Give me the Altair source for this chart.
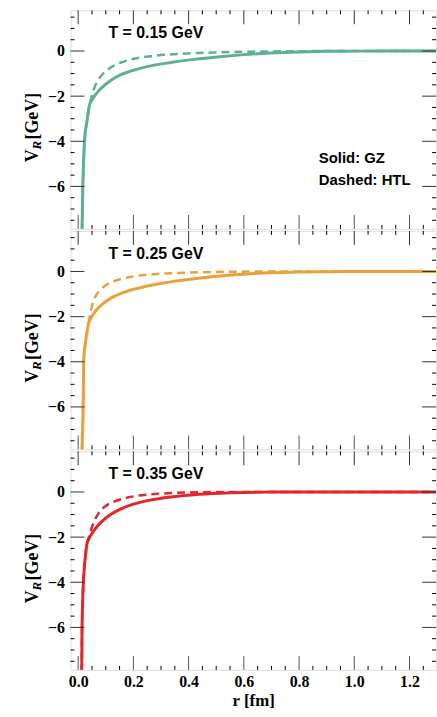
import altair as alt
import pandas as pd

# ---------------- data ----------------
temps = ["T = 0.15 GeV", "T = 0.25 GeV", "T = 0.35 GeV"]
colors = ["#5fae98", "#eaa13c", "#e2262b"]

# T = 0.15 GeV
r_gz_1 = [0.008, 0.014, 0.017, 0.023, 0.032, 0.041, 0.05, 0.06, 0.071, 0.09, 0.119, 0.155, 0.19, 0.25, 0.335, 0.42, 0.514, 0.6, 0.694, 0.8, 0.9, 1.0, 1.1, 1.2, 1.3]
v_gz_1 = [-12.0, -7.9, -6.0, -4.0, -3.1, -2.4, -2.17, -1.98, -1.81, -1.58, -1.3, -1.05, -0.89, -0.69, -0.51, -0.37, -0.25, -0.16, -0.09, -0.04, -0.015, -0.005, 0.0, 0.0, 0.0]
r_htl_1 = [0.008, 0.014, 0.017, 0.023, 0.032, 0.041, 0.047, 0.055, 0.065, 0.077, 0.089, 0.11, 0.131, 0.155, 0.19, 0.263, 0.35, 0.455, 0.55, 0.69, 0.85, 1.0, 1.3]
v_htl_1 = [-12.0, -7.9, -6.0, -4.0, -3.1, -2.4, -2.1, -1.75, -1.45, -1.2, -1.02, -0.8, -0.64, -0.51, -0.38, -0.23, -0.14, -0.08, -0.045, -0.02, -0.005, 0.0, 0.0]

# T = 0.25 GeV
r_gz_2 = [0.008, 0.014, 0.018, 0.020, 0.028, 0.037, 0.047, 0.058, 0.071, 0.09, 0.119, 0.155, 0.203, 0.25, 0.335, 0.42, 0.514, 0.6, 0.694, 0.8, 0.9, 1.0, 1.3]
v_gz_2 = [-12.0, -7.9, -6.0, -4.0, -3.0, -2.33, -2.05, -1.83, -1.64, -1.42, -1.18, -0.97, -0.78, -0.64, -0.46, -0.32, -0.2, -0.12, -0.06, -0.025, -0.01, 0.0, 0.0]
r_htl_2 = [0.008, 0.014, 0.018, 0.020, 0.028, 0.037, 0.045, 0.053, 0.065, 0.083, 0.105, 0.131, 0.155, 0.203, 0.274, 0.35, 0.455, 0.55, 0.7, 1.3]
v_htl_2 = [-12.0, -7.9, -6.0, -4.0, -3.0, -2.33, -1.8, -1.4, -1.06, -0.78, -0.57, -0.43, -0.33, -0.21, -0.12, -0.07, -0.03, -0.012, 0.0, 0.0]

# T = 0.35 GeV
r_gz_3 = [0.007, 0.013, 0.014, 0.019, 0.025, 0.032, 0.04, 0.05, 0.071, 0.09, 0.119, 0.155, 0.203, 0.26, 0.335, 0.42, 0.514, 0.6, 0.7, 0.8, 1.3]
v_gz_3 = [-12.0, -7.9, -6.0, -4.0, -3.0, -2.29, -2.05, -1.84, -1.5, -1.26, -0.99, -0.75, -0.53, -0.36, -0.22, -0.12, -0.055, -0.02, -0.005, 0.0, 0.0]
r_htl_3 = [0.007, 0.013, 0.014, 0.019, 0.025, 0.032, 0.04, 0.047, 0.058, 0.071, 0.09, 0.11, 0.131, 0.155, 0.203, 0.274, 0.335, 0.45, 0.55, 1.3]
v_htl_3 = [-12.0, -7.9, -6.0, -4.0, -3.0, -2.29, -1.95, -1.66, -1.3, -1.0, -0.72, -0.54, -0.42, -0.32, -0.19, -0.09, -0.05, -0.01, 0.0, 0.0]

series = [
    (r_gz_1, v_gz_1, r_htl_1, v_htl_1),
    (r_gz_2, v_gz_2, r_htl_2, v_htl_2),
    (r_gz_3, v_gz_3, r_htl_3, v_htl_3),
]

x_major = [0.0, 0.2, 0.4, 0.6, 0.8, 1.0, 1.2]
x_minor = [0.05, 0.10, 0.15, 0.25, 0.30, 0.35, 0.45, 0.50, 0.55, 0.65, 0.70, 0.75,
           0.85, 0.90, 0.95, 1.05, 1.10, 1.15, 1.25]
y_major = [0, -2, -4, -6]
y_minor = [1.5, 1.0, 0.5, -0.5, -1.0, -1.5, -2.5, -3.0, -3.5, -4.5, -5.0, -5.5,
           -6.5, -7.0, -7.5]

X_DOMAIN = [-0.0277, 1.296]
Y_DOMAIN = [-7.88, 1.80]
W, H = 368, 220
SERIF = "Liberation Serif"
SANS = "Liberation Sans"


def panel(i, show_x):
    xs = alt.Scale(domain=X_DOMAIN, nice=False, zero=False)
    ys = alt.Scale(domain=Y_DOMAIN, nice=False, zero=False)
    if show_x:
        xax = alt.Axis(values=x_major, format=".1f", ticks=False, domain=False, grid=False,
                       labelFont=SERIF, labelFontWeight="bold", labelFontSize=16,
                       labelColor="black", labelPadding=4, labelFlush=False,
                       title="r [fm]", titleFont=SERIF, titleFontSize=17,
                       titleFontWeight="bold", titleColor="black", titlePadding=3)
    else:
        xax = None
    yax = alt.Axis(values=y_major, ticks=False, domain=False, grid=False,
                   labelFont=SERIF, labelFontWeight="bold", labelFontSize=16,
                   labelColor="black", labelPadding=6, title=None)

    rg, vg, rh, vh = series[i]
    df_gz = pd.DataFrame({"r": rg, "v": vg})
    df_htl = pd.DataFrame({"r": rh, "v": vh})

    solid = alt.Chart(df_gz).mark_line(color=colors[i], strokeWidth=3, clip=True,
                                       interpolate="monotone").encode(
        x=alt.X("r:Q", scale=xs, axis=xax),
        y=alt.Y("v:Q", scale=ys, axis=yax),
        order="r:Q")
    dashed = alt.Chart(df_htl).mark_line(color=colors[i], strokeWidth=2.5, clip=True,
                                         strokeDash=[8, 5], interpolate="monotone").encode(
        x=alt.X("r:Q", scale=xs),
        y=alt.Y("v:Q", scale=ys),
        order="r:Q")

    dxM = pd.DataFrame({"x": x_major})
    dxm = pd.DataFrame({"x": x_minor})
    dyM = pd.DataFrame({"y": y_major})
    dym = pd.DataFrame({"y": y_minor})

    def xt(df, y0, y1, col):
        return alt.Chart(df).mark_rule(color=col, strokeWidth=1).encode(
            x=alt.X("x:Q", scale=xs), y=alt.value(y0), y2=alt.value(y1))

    def yt(df, x0, x1, col):
        return alt.Chart(df).mark_rule(color=col, strokeWidth=1).encode(
            y=alt.Y("y:Q", scale=ys), x=alt.value(x0), x2=alt.value(x1))

    ticks = [
        xt(dxM, H, H - 14, "#555"), xt(dxM, 0, 14, "#333"),
        xt(dxm, H, H - 4, "black"), xt(dxm, 0, 4, "black"),
        yt(dyM, 0, 14, "#333"), yt(dyM, W, W - 14, "#333"),
        yt(dym, 0, 4, "black"), yt(dym, W, W - 4, "black"),
    ]

    one = pd.DataFrame({"a": [0]})
    label = alt.Chart(one).mark_text(text=temps[i], font=SANS, fontWeight="bold",
                                     fontSize=16, align="center", baseline="alphabetic",
                                     color="black").encode(
        x=alt.value(86), y=alt.value(28))

    # y-axis title  V_R [GeV]
    t_v = alt.Chart(one).mark_text(text="V", font=SERIF, fontWeight="bold", fontSize=18,
                                   angle=270, align="left", baseline="alphabetic",
                                   color="black").encode(x=alt.value(-33), y=alt.value(153))
    t_r = alt.Chart(one).mark_text(text="R", font=SERIF, fontWeight="bold", fontStyle="italic",
                                   fontSize=13, angle=270, align="left", baseline="alphabetic",
                                   color="black").encode(x=alt.value(-30), y=alt.value(140))
    t_g = alt.Chart(one).mark_text(text="[GeV]", font=SERIF, fontWeight="bold", fontSize=18,
                                   angle=270, align="left", baseline="alphabetic",
                                   color="black").encode(x=alt.value(-33), y=alt.value(130))

    layers = [solid, dashed] + ticks + [label, t_v, t_r, t_g]
    if i == 0:
        one2 = pd.DataFrame({"a": [0]})
        leg1 = alt.Chart(one2).mark_text(text="Solid: GZ", font=SANS, fontWeight="bold",
                                         fontSize=15, align="left", baseline="alphabetic",
                                         color="black").encode(x=alt.value(250), y=alt.value(154))
        leg2 = alt.Chart(one2).mark_text(text="Dashed: HTL", font=SANS, fontWeight="bold",
                                         fontSize=15, align="left", baseline="alphabetic",
                                         color="black").encode(x=alt.value(250), y=alt.value(176))
        layers += [leg1, leg2]
    return alt.layer(*layers).properties(width=W, height=H)


chart = alt.vconcat(panel(0, False), panel(1, False), panel(2, True), spacing=0).properties(
    padding={"left": 23, "top": 7, "right": 0, "bottom": 0}
).configure_view(stroke="black", strokeWidth=1).configure(background="white")

chart.save("out.html", embed_options={"renderer": "svg", "actions": False})
